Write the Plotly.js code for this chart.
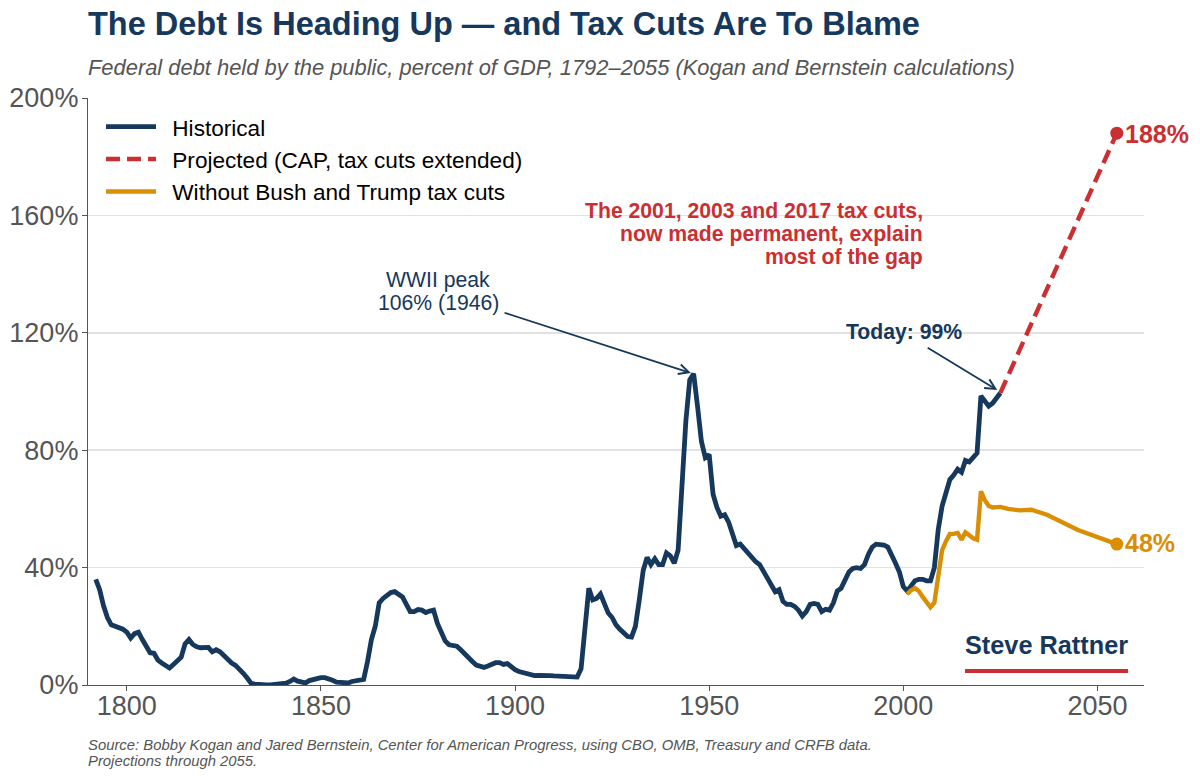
<!DOCTYPE html>
<html><head><meta charset="utf-8">
<script src="https://cdn.plot.ly/plotly-3.0.1.min.js"></script>
<style>html,body{margin:0;padding:0;background:#fff}#c{width:1200px;height:780px}</style>
</head><body><div id="c"></div>
<script>
const FONT = 'Liberation Sans, Arial, sans-serif';
const NAVY = '#16385C', RED = '#CB2F31', GOLD = '#D98E04';
const histStartYear = 1792;
const histValues = [36,32.5,27,23,20.5,20,19.5,19,18,16,17.5,18,15.5,13.5,11,10.8,8.5,7.5,6.5,5.8,7,8.5,9.5,14,15.5,13.8,13,12.7,12.7,12.8,11.3,12,11.3,10,8.8,7.5,6.7,5.5,4,2.4,0.6,0.3,0.1,0,0,0,0.1,0.4,0.2,0.6,1.2,2,1.3,0.8,0.7,1.5,1.8,2.5,2.5,2.5,2.2,1.6,1,0.8,0.7,0.7,1.2,1.4,1.5,1.9,8,15.5,20,28,29.5,30.5,31.5,31.8,31,30,27.5,25,25,25.7,25.5,24.7,25.2,25.5,21,18,15,13.7,13.3,13.2,12,10.5,9.2,8,6.8,6.3,6,6.5,7.2,7.6,7.6,7,7.3,6,5.2,4.6,4.2,3.9,3.5,3.2,3.3,3.4,3.3,3.2,3.1,3,2.9,2.9,2.9,2.9,2.7,5.5,18,33,29,29.5,31,28,24.5,23,20.5,19,18,16.5,16.3,20,29,39,43.5,41,43,41,41,45,44,41.5,46,70,90,104,106,95,83,77.5,78.5,65,60.5,57.5,58,55.5,51,47.5,48,46.5,44.5,43.5,42,41,38.5,36.5,33.5,31.8,32.5,28.5,27.5,27.5,26.8,25.5,23.5,25,27.5,27.8,27.5,25,25.8,25.5,28,32,33,35.5,38.5,39.7,40,39.7,41,44.5,47,48,48,47.7,47,44.5,41.5,38.5,33.5,32,33.5,35.5,36,36,35.5,35.5,40,53,61,65.5,70,71.5,73.5,72.5,76.5,76,77.5,79,98.5,96.5,95,96,97.5,99.5];
const histYears = histValues.map((_, i) => histStartYear + i);
const projYears = [2025,2032,2039,2046,2055];
const projValues = [99.5,120,141,161,188];
const altYears = [2001,2002,2003,2004,2005,2006,2007,2008,2009,2010,2011,2012,2013,2014,2015,2016,2017,2018,2019,2020,2021,2022,2023,2024,2025,2027,2030,2033,2037,2045,2055];
const altValues = [31,32.3,33,32,30,28.5,26.5,28,38,46,49,51.5,51.5,51.8,49.5,52,51,50,49.5,66,63,61,60.5,60.7,60.7,60,59.5,59.7,58,52.8,48];
const yTicks = [0,40,80,120,160,200];
const xTicks = [1800,1850,1900,1950,2000,2050];
const GAP = '\u2002';

const traces = [
 {x:histYears,y:histValues,name:GAP+'Historical',mode:'lines',line:{color:NAVY,width:4.8}},
 {x:projYears,y:projValues,name:GAP+'Projected (CAP, tax cuts extended)',mode:'lines',line:{color:RED,width:4.4,dash:'14px,7px'}},
 {x:altYears,y:altValues,name:GAP+'Without Bush and Trump tax cuts',mode:'lines',line:{color:GOLD,width:4.4}},
 {x:[projYears[projYears.length-1]],y:[projValues[projValues.length-1]],mode:'markers',marker:{color:RED,size:13},showlegend:false},
 {x:[altYears[altYears.length-1]],y:[altValues[altValues.length-1]],mode:'markers',marker:{color:GOLD,size:13},showlegend:false}
];
const M={l:88,r:56,t:98,b:95};
const W=1200-M.l-M.r,H=780-M.t-M.b;
function P(xp,yp,text,size,color,opts){return Object.assign({xref:'paper',yref:'paper',x:(xp-M.l)/W,y:(M.t+H-yp)/H,text:text,showarrow:false,font:{family:FONT,size:size,color:color},xanchor:'left',yanchor:'middle',align:'left'},opts||{});}
const C={xanchor:'center',align:'center'}, R={xanchor:'right',align:'right'};
const annotations=[
 P(86,24,'<b>The Debt Is Heading Up — and Tax Cuts Are To Blame</b>',32.5,NAVY),
 P(86,68,'<i>Federal debt held by the public, percent of GDP, 1792–2055 (Kogan and Bernstein calculations)</i>',21.9,'#555555'),
 P(86,745,'<i>Source: Bobby Kogan and Jared Bernstein, Center for American Progress, using CBO, OMB, Treasury and CRFB data.</i>',14.85,'#555555'),
 P(86,761,'<i>Projections through 2055.</i>',14.85,'#555555'),
 P(438,280,'WWII peak',21.2,NAVY,C),
 P(438,303,'106% (1946)',21.2,NAVY,C),
 P(925,210.5,'<b>The 2001, 2003 and 2017 tax cuts,</b>',21.2,RED,R),
 P(925,233.5,'<b>now made permanent, explain</b>',21.2,RED,R),
 P(925,256.5,'<b>most of the gap</b>',21.2,RED,R),
 P(904,332,'<b>Today: 99%</b>',21.2,NAVY,C),
 P(1123,134,'<b>188%</b>',25,RED),
 P(1123,543,'<b>48%</b>',25,GOLD),
 P(1046.5,645,'<b>Steve Rattner</b>',25.3,NAVY,C),
 {xref:'x',yref:'y',axref:'x',ayref:'y',x:1945.3,y:106.3,ax:1896.9,ay:127,text:'',showarrow:true,arrowhead:5,arrowsize:1.1,arrowwidth:1.8,arrowcolor:NAVY,standoff:0},
 {xref:'x',yref:'y',axref:'x',ayref:'y',x:2024.2,y:100.5,ax:2005.9,ay:115.2,text:'',showarrow:true,arrowhead:5,arrowsize:1.1,arrowwidth:1.8,arrowcolor:NAVY,standoff:0}
];
const layout={
 width:1200,height:780,margin:M,paper_bgcolor:'#fff',plot_bgcolor:'#fff',
 font:{family:FONT},
 showlegend:true,
 legend:{x:(101-M.l)/W,y:(M.t+H-105.5)/H,xanchor:'left',yanchor:'top',bgcolor:'rgba(0,0,0,0)',font:{family:FONT,size:22.6,color:'#000'},itemwidth:50,tracegroupgap:0},
 xaxis:{range:[1790,2062],tickvals:xTicks,ticktext:xTicks.map(String),showgrid:false,zeroline:false,showline:true,linecolor:'#555',linewidth:1.2,ticks:'outside',ticklen:5,tickcolor:'#555',ticklabelstandoff:-9,tickfont:{family:FONT,size:27,color:'#555555'}},
 yaxis:{range:[0,200],tickvals:yTicks,ticktext:yTicks.map(v=>v+'%'),showgrid:true,gridcolor:'#E2E2E2',gridwidth:1.5,zeroline:false,showline:true,linecolor:'#555',linewidth:1.2,ticks:'outside',ticklen:5,tickcolor:'#555',ticklabelstandoff:-2,tickfont:{family:FONT,size:27,color:'#555555'}},
 shapes:[{type:'line',xref:'x',yref:'y',x0:2015.9,x1:2057.9,y0:4.77,y1:4.77,line:{color:RED,width:4}}],
 annotations:annotations
};
Plotly.newPlot('c',traces,layout,{displayModeBar:false,staticPlot:true});
</script></body></html>
